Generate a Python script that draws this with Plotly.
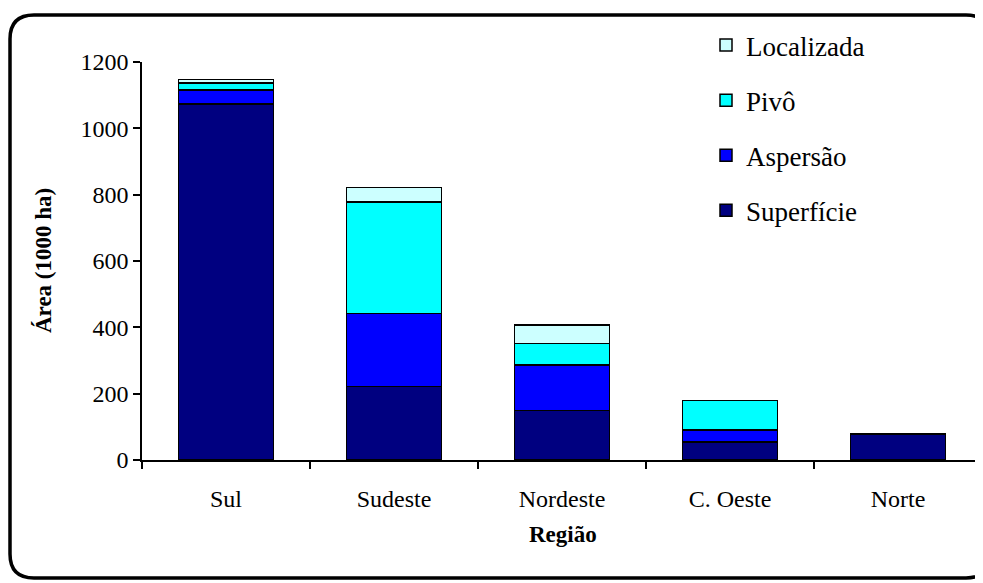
import plotly.graph_objects as go

regioes = ["Sul", "Sudeste", "Nordeste", "C. Oeste", "Norte"]
superficie = [1073, 221, 149, 55, 79]
aspersao = [42, 221, 137, 36, 0]
pivo = [21, 336, 66, 89, 0]
localizada = [12, 44, 55, 0, 0]

series = [
    ("Superfície", superficie, "#000080", 4),
    ("Aspersão", aspersao, "#0000FF", 3),
    ("Pivô", pivo, "#00FFFF", 2),
    ("Localizada", localizada, "#CCFFFF", 1),
]

OFF = 8  # page body margin
W, H = 983 - OFF, 583 - OFF
L, R, T, B = 142, 982, 62, 460   # screen pixels of plot area
FONT = "Liberation Serif"

def px(X):
    return (X - L) / (R - L)

def py(Y):
    return (B - Y) / (B - T)

fig = go.Figure()
for name, vals, col, rank in series:
    fig.add_trace(go.Bar(
        x=regioes, y=vals, name=name, legendgroup=name, legendrank=rank,
        marker=dict(color=col, line=dict(color="black", width=1.5)),
    ))

# rounded outer border (screen pixels)
x0, x1, y0, y1, r = 10, 990, 15, 578, 24
path = (f"M {px(x0+r)},{py(y0)} L {px(x1-r)},{py(y0)} "
        f"Q {px(x1)},{py(y0)} {px(x1)},{py(y0+r)} "
        f"L {px(x1)},{py(y1-r)} Q {px(x1)},{py(y1)} {px(x1-r)},{py(y1)} "
        f"L {px(x0+r)},{py(y1)} Q {px(x0)},{py(y1)} {px(x0)},{py(y1-r)} "
        f"L {px(x0)},{py(y0+r)} Q {px(x0)},{py(y0)} {px(x0+r)},{py(y0)} Z")

fig.update_layout(
    width=W, height=H,
    margin=dict(l=L - OFF, r=W - (R - OFF), t=T - OFF, b=H - (B - OFF)),
    paper_bgcolor="white", plot_bgcolor="white",
    barmode="stack", bargap=0.435,
    font=dict(family=FONT, color="black", size=24),
    showlegend=True,
    legend=dict(
        x=px(706), y=py(21), xanchor="left", yanchor="top",
        traceorder="grouped", tracegroupgap=17,
        font=dict(size=27, family=FONT), bgcolor="rgba(0,0,0,0)",
    ),
    shapes=[dict(type="path", path=path, xref="paper", yref="paper",
                 line=dict(color="black", width=3.5), layer="above")],
    annotations=[
        dict(text="<b>Área (1000 ha)</b>", xref="paper", yref="paper",
             x=px(43), y=py(261), xanchor="center", yanchor="middle",
             textangle=-90, showarrow=False,
             font=dict(size=23, family=FONT)),
        dict(text="<b>Região</b>", xref="paper", yref="paper",
             x=px(563), y=py(534), xanchor="center", yanchor="middle",
             showarrow=False,
             font=dict(size=23, family=FONT)),
    ],
)

fig.update_xaxes(
    showline=True, linecolor="black", linewidth=1.5,
    ticks="outside", ticklen=7, tickcolor="black", tickwidth=1.5,
    tickson="boundaries", ticklabelstandoff=16,
    showgrid=False, range=[-0.5, 4.5],
    tickfont=dict(size=24, family=FONT),
)
fig.update_yaxes(
    showline=True, linecolor="black", linewidth=1.5,
    ticks="outside", ticklen=7, tickcolor="black", tickwidth=1.5,
    range=[0, 1200], dtick=200, showgrid=False, zeroline=False,
    ticklabelstandoff=0,
    tickfont=dict(size=24, family=FONT),
)

fig.write_html("out.html")
